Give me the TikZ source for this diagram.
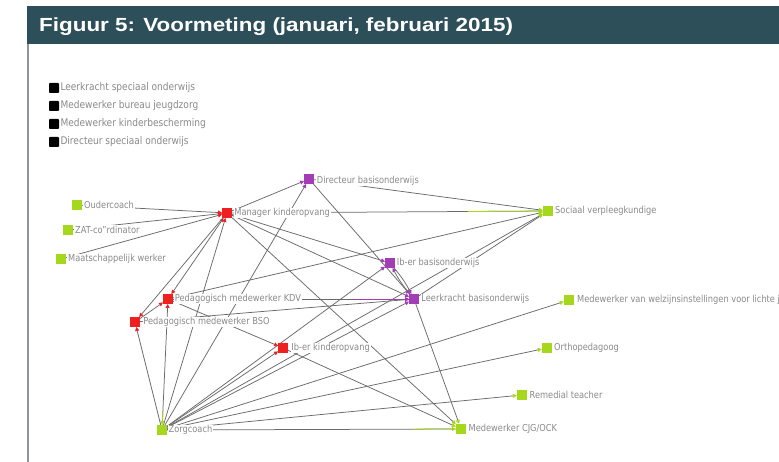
\documentclass[tikz,border=0pt]{standalone}
\usepackage{fontspec}
\setmainfont{Liberation Sans}
\newfontfamily\labfont[FakeStretch=0.86]{DejaVu Sans}
\usetikzlibrary{arrows.meta,calc}
\pgfdeclarelayer{bglayer}
\pgfdeclarelayer{edgelayer}
\pgfsetlayers{bglayer,edgelayer,main}
\definecolor{hdr}{HTML}{2D4F59}
\definecolor{frm}{HTML}{8796A0}
\definecolor{nred}{HTML}{EE2020}
\definecolor{npur}{HTML}{A23DB5}
\definecolor{ngrn}{HTML}{A5D81C}
\definecolor{ltxt}{HTML}{8A8A8A}
\definecolor{edg}{HTML}{6A6A6A}
\begin{document}
\begin{tikzpicture}[x=1pt,y=-1pt,
  sq/.style={rectangle, inner sep=0pt, minimum size=9.5pt},
  rd/.style={sq, fill=nred},
  pu/.style={sq, fill=npur},
  gr/.style={sq, fill=ngrn, minimum size=10pt},
  bk/.style={sq, fill=black, minimum size=10pt, rounded corners=0.8pt},
  lab/.style={anchor=west, inner sep=0.8pt, fill=white, text=ltxt, font=\labfont\fontsize{9.6}{11}\selectfont},
  leg/.style={lab, font=\labfont\fontsize{10.5}{12}\selectfont},
  ed/.style={draw=edg, line width=0.75pt},
  tr/.style={-{Triangle[length=4pt,width=4pt,color=nred]}},
  tp/.style={-{Triangle[length=4pt,width=4pt,color=npur]}},
  tg/.style={-{Triangle[length=4pt,width=4pt,color=ngrn]}},
  trr/.style={{Triangle[length=4pt,width=4pt,color=nred]}-{Triangle[length=4pt,width=4pt,color=nred]}},
  tgr/.style={{Triangle[length=4pt,width=4pt,color=nred]}-{Triangle[length=4pt,width=4pt,color=ngrn]}},
  ov/.style={line width=0.8pt}
]
\useasboundingbox (0,0) rectangle (779,462);
\begin{pgfonlayer}{bglayer}
\fill[white] (0,0) rectangle (779,462);
\fill[hdr] (27,6) rectangle (779,44);
\fill[frm] (27,44) rectangle (29,462);
\end{pgfonlayer}
\node[anchor=base west, inner sep=0pt, text=white, font=\bfseries\fontsize{19}{21}\selectfont] (title) at (39,32) {\scalebox{1.18}[1]{Figuur 5: Voormeting (januari, februari 2015)}};

% legend
\node[bk] (lg1) at (54,88) {};
\node[leg] (lg1T) at ([xshift=0.3pt]lg1.east) {Leerkracht speciaal onderwijs};
\node[bk] (lg2) at (54,106) {};
\node[leg] (lg2T) at ([xshift=0.3pt]lg2.east) {Medewerker bureau jeugdzorg};
\node[bk] (lg3) at (54,124) {};
\node[leg] (lg3T) at ([xshift=0.3pt]lg3.east) {Medewerker kinderbescherming};
\node[bk] (lg4) at (54,142) {};
\node[leg] (lg4T) at ([xshift=0.3pt]lg4.east) {Directeur speciaal onderwijs};

% nodes
\node[gr] (ouder) at (77,205) {};
\node[gr] (zat) at (68,230) {};
\node[gr] (maat) at (61,259) {};
\node[rd] (mgr) at (227,213) {};
\node[pu] (dir) at (309,179) {};
\node[gr] (soc) at (548,211) {};
\node[pu] (ibbo) at (390,263) {};
\node[pu] (lk) at (414,299) {};
\node[gr] (welz) at (569,300) {};
\node[rd] (kdv) at (168,299) {};
\node[rd] (bso) at (135,322) {};
\node[rd] (ibko) at (283,348) {};
\node[gr] (ortho) at (547,348) {};
\node[gr] (rem) at (522,395) {};
\node[gr] (zorg) at (162,430) {};
\node[gr] (cjg) at (461,429) {};

% labels
\node[lab] (ouderT) at ([xshift=1pt]ouder.east) {Oudercoach};
\node[lab] (zatT) at ([xshift=1pt]zat.east) {ZAT-co”rdinator};
\node[lab] (maatT) at ([xshift=1pt]maat.east) {Maatschappelijk werker};
\node[lab] (mgrT) at ([xshift=1.5pt]mgr.east) {Manager kinderopvang};
\node[lab] (dirT) at ([xshift=2pt,yshift=-1.5pt]dir.east) {Directeur basisonderwijs};
\node[lab] (socT) at ([xshift=1pt]soc.east) {Sociaal verpleegkundige};
\node[lab] (ibboT) at ([xshift=1pt]ibbo.east) {Ib-er basisonderwijs};
\node[lab] (lkT) at ([xshift=1.5pt]lk.east) {Leerkracht basisonderwijs};
\node[lab] (welzT) at ([xshift=2pt]welz.east) {Medewerker van welzijnsinstellingen voor lichte je};
\node[lab] (kdvT) at ([xshift=1pt]kdv.east) {Pedagogisch medewerker KDV};
\node[lab] (bsoT) at ([xshift=2.5pt]bso.east) {Pedagogisch medewerker BSO};
\node[lab] (ibkoT) at ([xshift=2.5pt]ibko.east) {Ib-er kinderopvang};
\node[lab] (orthoT) at ([xshift=1pt]ortho.east) {Orthopedagoog};
\node[lab] (remT) at ([xshift=1.5pt]rem.east) {Remedial teacher};
\node[lab] (zorgT) at ([xshift=0.5pt]zorg.east) {Zorgcoach};
\node[lab] (cjgT) at ([xshift=1.5pt]cjg.east) {Medewerker CJG/OCK};

% edges
\begin{pgfonlayer}{edgelayer}
\draw[ed,tr] (ouder) -- (mgr);
\draw[ed,tr] (zat) -- (mgr);
\draw[ed,tr] (maat) -- (mgr);
\draw[ed,tp] (mgr) -- (dir);
\draw[ed,tp] (zorg) -- (dir);
\draw[ed,tg] (mgr) -- (soc);
\draw[ngrn,ov] ($(mgr)!0.75!(soc)$) -- (soc);
\draw[ed,tg] (dir) -- (soc);
\draw[ed,tg] (kdv) -- (soc);
\draw[ed,tg] (zorg) -- (soc);
\draw[ed,tg] (lk) -- (soc);
\draw[ed,tp] (mgr) -- (ibbo);
\draw[ed,tp] (zorg) -- (ibbo);
\draw[ed,tp] (ibbo) to[bend left=6] (lk);
\draw[ed,tp] (lk) to[bend left=6] (ibbo);
\draw[ed,tp] (dir) -- (lk);
\draw[ed,tp] (mgr) -- (lk);
\draw[ed,tp] (kdv) -- (lk);
\draw[npur,ov] ($(kdv)!0.76!(lk)$) -- (lk);
\draw[ed,tp] (bso) -- (lk);
\draw[ed,tp] (zorg) -- (lk);
\draw[ed,trr] (mgr) -- (kdv);
\draw[ed,tr] (mgr) -- (bso);
\draw[ed,tr] (zorg) -- (mgr);
\draw[ed,tr] (bso) -- (kdv);
\draw[ed,tr] (zorg) -- (bso);
\draw[ed,tgr] (kdv) -- (zorg);
\draw[ngrn,ov] ($(kdv)!0.85!(zorg)$) -- (zorg);
\draw[ed,tr] (kdv) -- (ibko);
\draw[ed,tr] (zorg) -- (ibko);
\draw[ed,tg] (mgr) -- (cjg);
\draw[ed,tg] (ibko) -- (cjg);
\draw[ed,tg] (lk) -- (cjg);
\draw[ed,tg] (zorg) -- (cjg);
\draw[ngrn,ov] ($(zorg)!0.84!(cjg)$) -- (cjg);
\draw[ed,tg] (zorg) -- (welz);
\draw[ed,tg] (zorg) -- (ortho);
\draw[ed,tg] (zorg) -- (rem);
\end{pgfonlayer}
\end{tikzpicture}
\end{document}
